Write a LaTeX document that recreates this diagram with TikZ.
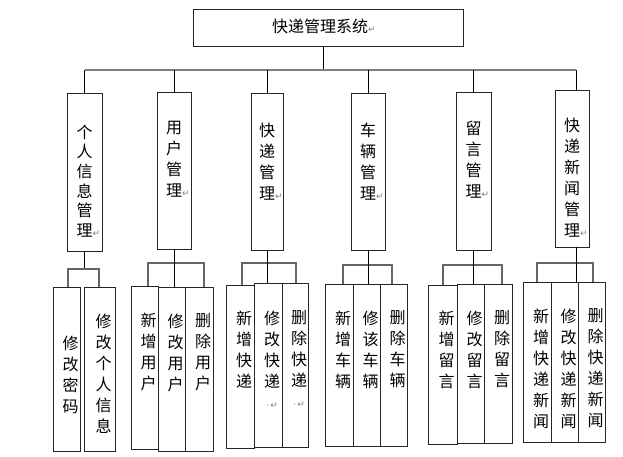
\documentclass[tikz,border=0pt]{standalone}
\usepackage{fontspec}
\newfontfamily\cjk{Noto Sans CJK SC}
\newfontfamily\symf{DejaVu Sans}
\usetikzlibrary{positioning}
\newcommand\retmark{\rlap{\symf\fontsize{9}{9}\selectfont\textcolor{gray}{↵}}}
\newcommand\dotret{{\symf\fontsize{9}{9}\selectfont\textcolor{gray}{·\,↵}}}

\tikzset{
  box/.style={draw=black!85, line width=0.9pt, inner sep=0pt},
  vtext/.style={font=\cjk\fontsize{16}{21}\selectfont, align=center, inner sep=0pt},
  stext/.style={vtext, xshift=4pt},
  stem/.style={draw=black, line width=0.8pt},
  branch/.style={draw=black!60, line width=1.2pt},
  bus/.style={draw=black!50, line width=1.5pt},
}

\begin{document}
\begin{tikzpicture}[x=1pt, y=-1pt]
        \useasboundingbox (0,0) rectangle (623,457);
        % root
        \node (sys) [box, minimum width=270pt, minimum height=37pt] at (328,27.5) {};
        \node (syst) [vtext, font=\cjk\fontsize{16}{16}\selectfont] at (320,26) {快递管理系统\retmark};
        % modules
        \node (m1) [box, minimum width=35pt, minimum height=158pt] at (84.5,172) {};
        \node (m2) [box, minimum width=34pt, minimum height=157pt] at (174,170.5) {};
        \node (m3) [box, minimum width=32pt, minimum height=157pt] at (267,171.5) {};
        \node (m4) [box, minimum width=34pt, minimum height=157pt] at (368,171.5) {};
        \node (m5) [box, minimum width=35pt, minimum height=158pt] at (473.5,171) {};
        \node (m6) [box, minimum width=34pt, minimum height=157pt] at (572,168.5) {};
        \node (m1t) [vtext, font=\cjk\fontsize{16}{19.6}\selectfont, below=32pt of m1.north] {个\\人\\信\\息\\管\\理\retmark};
        \node (m2t) [vtext, below=29pt of m2.north] {用\\户\\管\\理\retmark};
        \node (m3t) [vtext, below=30pt of m3.north] {快\\递\\管\\理\retmark};
        \node (m4t) [vtext, below=30pt of m4.north] {车\\辆\\管\\理\retmark};
        \node (m5t) [vtext, below=29pt of m5.north] {留\\言\\管\\理\retmark};
        \node (m6t) [vtext, below=28pt of m6.north] {快\\递\\新\\闻\\管\\理\retmark};
        % functions
        \node (s11) [box, minimum width=27pt, minimum height=164pt] at (66.5,369) {};
        \node (s12) [box, minimum width=31pt, minimum height=164pt] at (99.5,369) {};
        \node (s21) [box, minimum width=27pt, minimum height=163pt] at (144.5,367.5) {};
        \node (s22) [box, minimum width=27pt, minimum height=164pt] at (171.5,369) {};
        \node (s23) [box, minimum width=28pt, minimum height=164pt] at (199,369) {};
        \node (s31) [box, minimum width=28pt, minimum height=163pt] at (240,366.5) {};
        \node (s32) [box, minimum width=28pt, minimum height=164pt] at (268,365) {};
        \node (s33) [box, minimum width=26pt, minimum height=164pt] at (295,365) {};
        \node (s41) [box, minimum width=28pt, minimum height=162pt] at (339,365) {};
        \node (s42) [box, minimum width=27pt, minimum height=162pt] at (366.5,365) {};
        \node (s43) [box, minimum width=27pt, minimum height=162pt] at (393.5,365) {};
        \node (s51) [box, minimum width=29pt, minimum height=159pt] at (442.5,364.5) {};
        \node (s52) [box, minimum width=27pt, minimum height=159pt] at (470.5,363.5) {};
        \node (s53) [box, minimum width=28pt, minimum height=159pt] at (498,363.5) {};
        \node (s61) [box, minimum width=28pt, minimum height=160pt] at (537,362) {};
        \node (s62) [box, minimum width=27pt, minimum height=160pt] at (564.5,362) {};
        \node (s63) [box, minimum width=27pt, minimum height=160pt] at (591.5,362) {};
        \node (s11t) [stext, below=49pt of s11.north] {修\\改\\密\\码};
        \node (s12t) [stext, below=27pt of s12.north] {修\\改\\个\\人\\信\\息};
        \node (s21t) [stext, below=27pt of s21.north] {新\\增\\用\\户};
        \node (s22t) [stext, below=27pt of s22.north] {修\\改\\用\\户};
        \node (s23t) [stext, below=27pt of s23.north] {删\\除\\用\\户};
        \node (s31t) [stext, below=26pt of s31.north] {新\\增\\快\\递};
        \node (s32t) [stext, below=28pt of s32.north] {修\\改\\快\\递\\\dotret};
        \node (s33t) [stext, below=28pt of s33.north] {删\\除\\快\\递\\\dotret};
        \node (s41t) [stext, below=27pt of s41.north] {新\\增\\车\\辆};
        \node (s42t) [stext, below=27pt of s42.north] {修\\该\\车\\辆};
        \node (s43t) [stext, below=27pt of s43.north] {删\\除\\车\\辆};
        \node (s51t) [stext, below=26pt of s51.north] {新\\增\\留\\言};
        \node (s52t) [stext, below=27pt of s52.north] {修\\改\\留\\言};
        \node (s53t) [stext, below=27pt of s53.north] {删\\除\\留\\言};
        \node (s61t) [stext, below=27pt of s61.north] {新\\增\\快\\递\\新\\闻};
        \node (s62t) [stext, below=27pt of s62.north] {修\\改\\快\\递\\新\\闻};
        \node (s63t) [stext, below=27pt of s63.north] {删\\除\\快\\递\\新\\闻};
        % links root -> modules
        \coordinate (b0) at (323,70);
        \path (m6.north) ++(4,0) coordinate (t6);
        \path (m6.south) ++(4,0) coordinate (b6);
        \draw[stem] ([xshift=-5pt]sys.south) -- (b0);
        \draw[bus] (m1.north |- b0) -- (t6 |- b0);
        \foreach \m in {m1,m2,m3,m4,m5}
                \draw[stem] (\m.north |- b0) -- (\m.north);
        \draw[stem] (t6 |- b0) -- (t6);
        % links modules -> functions
        \coordinate (L1) at (68,269);
        \coordinate (R1) at (99,269);
        \draw[stem] (m1.south) -- (m1.south |- L1);
        \draw[branch] (L1 |- s11.north) -- (L1) -- (R1) -- (R1 |- s12.north);
        \foreach \g/\lx/\rx/\jy in {2/148/204/263, 3/242/296/263, 4/343/392/265, 5/443/502/265, 6/537/593/263} {
                \coordinate (L\g) at (\lx,\jy);
                \coordinate (R\g) at (\rx,\jy);
                \draw[branch] (L\g |- s\g1.north) -- (L\g) -- (R\g) -- (R\g |- s\g3.north);
        }
        \foreach \g in {2,3,4,5}
                \draw[stem] (m\g.south) -- (m\g.south |- s\g2.north);
        \draw[stem] (b6) -- (b6 |- s62.north);
\end{tikzpicture}
\end{document}
